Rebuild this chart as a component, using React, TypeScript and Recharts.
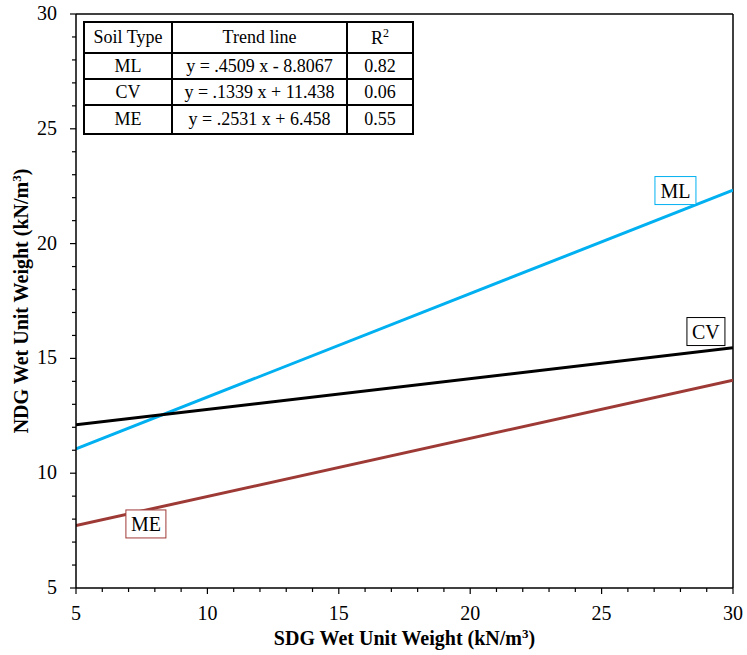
import React from 'react';
import {
  LineChart,
  Line,
  XAxis,
  YAxis,
  ReferenceLine,
  ReferenceDot,
} from 'recharts';

// Trend line end points (SDG vs NDG wet unit weight, kN/m3)
const xRange = [5, 30];
const mlValues = [11.06, 22.33];
const cvValues = [12.11, 15.46];
const meValues = [7.72, 14.05];

const xTicks = [5, 6, 7, 8, 9, 10, 11, 12, 13, 14, 15, 16, 17, 18, 19, 20, 21, 22, 23, 24, 25, 26, 27, 28, 29, 30];
const yTicks = [5, 6, 7, 8, 9, 10, 11, 12, 13, 14, 15, 16, 17, 18, 19, 20, 21, 22, 23, 24, 25, 26, 27, 28, 29, 30];

const soilTypes = ['ML', 'CV', 'ME'];
const trendLines = ['y = .4509 x - 8.8067', 'y = .1339 x + 11.438', 'y = .2531 x + 6.458'];
const rSquared = ['0.82', '0.06', '0.55'];

// label positions (data coords) for the boxed series names
const labelX = [27.81, 28.97, 7.66];
const labelY = [22.31, 16.17, 7.79];

const COLORS = { ML: '#00b0f0', CV: '#000000', ME: '#9e3a36' };
const FONT = "'Liberation Serif', 'DejaVu Serif', serif";
const TICK = 6;
const MARGIN = 2;

const toSeries = (vals: number[]) => xRange.map((x, i) => ({ x, y: vals[i] }));

// major ticks (every 5) are longer and labelled, minor ones short
const XTick = (props: any) => {
  const { x, y, payload } = props;
  const axisY = y - TICK - MARGIN;
  const major = payload.value % 5 === 0;
  return (
    <g>
      <line x1={x} x2={x} y1={axisY} y2={axisY + (major ? 6 : 4)} stroke="#000" strokeWidth={1.2} />
      {major && (
        <text x={x} y={axisY + 32} textAnchor="middle" style={{ fontFamily: FONT }} fontSize={20} fill="#000">
          {payload.value}
        </text>
      )}
    </g>
  );
};

const YTick = (props: any) => {
  const { x, y, payload } = props;
  const axisX = x + TICK + MARGIN;
  const major = payload.value % 5 === 0;
  return (
    <g>
      <line x1={axisX} x2={axisX - (major ? 6 : 4)} y1={y} y2={y} stroke="#000" strokeWidth={1.2} />
      {major && (
        <text x={axisX - 19} y={y + 6} textAnchor="end" style={{ fontFamily: FONT }} fontSize={20} fill="#000">
          {payload.value}
        </text>
      )}
    </g>
  );
};

const BoxLabel = (props: any) => {
  const { cx, cy, text, color, w } = props;
  return (
    <g>
      <rect x={cx - w / 2} y={cy - 14} width={w} height={28} fill="#fff" stroke={color} strokeWidth={1} />
      <text x={cx} y={cy + 7} textAnchor="middle" style={{ fontFamily: FONT }} fontSize={20} fill="#000">
        {text}
      </text>
    </g>
  );
};

const XTitle = (props: any) => {
  const { viewBox } = props;
  const cx = viewBox.x + viewBox.width / 2;
  return (
    <text x={cx} y={645} textAnchor="middle" style={{ fontFamily: FONT }} fontSize={20} fontWeight="bold" fill="#000">
      SDG Wet Unit Weight (kN/m<tspan dy={-7} fontSize={13}>3</tspan><tspan dy={7}>)</tspan>
    </text>
  );
};

const YTitle = (props: any) => {
  const { viewBox } = props;
  const cy = viewBox.y + viewBox.height / 2;
  return (
    <text
      x={28}
      y={cy}
      transform={`rotate(-90, 28, ${cy})`}
      textAnchor="middle"
      style={{ fontFamily: FONT }}
      fontSize={20}
      fontWeight="bold"
      fill="#000"
    >
      NDG Wet Unit Weight (kN/m<tspan dy={-7} fontSize={13}>3</tspan><tspan dy={7}>)</tspan>
    </text>
  );
};

const cell: React.CSSProperties = {
  border: '2px solid #000',
  textAlign: 'center',
  padding: 0,
  fontFamily: FONT,
  fontSize: 18,
  color: '#000',
};

export default function App() {
  const series = [
    { name: 'ML', data: toSeries(mlValues), color: COLORS.ML },
    { name: 'CV', data: toSeries(cvValues), color: COLORS.CV },
    { name: 'ME', data: toSeries(meValues), color: COLORS.ME },
  ];
  const labelW = [41, 38, 40];

  return (
    <div style={{ position: 'absolute', left: 0, top: 0, width: 747, height: 655, background: '#fff', fontFamily: FONT }}>
      <LineChart width={747} height={655} margin={{ top: 14, right: 14, left: 20, bottom: 27 }}>
        <XAxis
          type="number"
          dataKey="x"
          domain={[5, 30]}
          ticks={xTicks}
          interval={0}
          tickSize={TICK}
          tickMargin={MARGIN}
          height={40}
          axisLine={{ stroke: '#000', strokeWidth: 1.5 }}
          tickLine={false}
          tick={<XTick />}
          label={<XTitle />}
          allowDataOverflow
        />
        <YAxis
          type="number"
          domain={[5, 30]}
          ticks={yTicks}
          interval={0}
          tickSize={TICK}
          tickMargin={MARGIN}
          width={56}
          axisLine={{ stroke: '#000', strokeWidth: 1.5 }}
          tickLine={false}
          tick={<YTick />}
          label={<YTitle />}
          allowDataOverflow
        />
        <ReferenceLine x={30} stroke="#000" strokeWidth={1.5} />
        <ReferenceLine y={30} stroke="#000" strokeWidth={1.5} />
        {series.map((s) => (
          <Line
            key={s.name}
            data={s.data}
            dataKey="y"
            type="linear"
            stroke={s.color}
            strokeWidth={3}
            dot={false}
            activeDot={false}
            isAnimationActive={false}
          />
        ))}
        {series.map((s, i) => (
          <ReferenceDot
            key={`lbl-${s.name}`}
            x={labelX[i]}
            y={labelY[i]}
            r={0}
            shape={(p: any) => (
              <BoxLabel cx={p.cx} cy={p.cy} text={soilTypes[i]} color={s.color} w={labelW[i]} />
            )}
          />
        ))}
      </LineChart>
      <table
        style={{
          position: 'absolute',
          left: 83,
          top: 21,
          borderCollapse: 'collapse',
          background: '#fff',
        }}
      >
        <tbody>
          <tr style={{ height: 31 }}>
            <td style={{ ...cell, width: 86 }}>Soil Type</td>
            <td style={{ ...cell, width: 173 }}>Trend line</td>
            <td style={{ ...cell, width: 64 }}>
              R<sup style={{ fontSize: 12 }}>2</sup>
            </td>
          </tr>
          {soilTypes.map((t, i) => (
            <tr key={t} style={{ height: i === 2 ? 29 : 26 }}>
              <td style={cell}>{t}</td>
              <td style={cell}>{trendLines[i]}</td>
              <td style={cell}>{rSquared[i]}</td>
            </tr>
          ))}
        </tbody>
      </table>
    </div>
  );
}
